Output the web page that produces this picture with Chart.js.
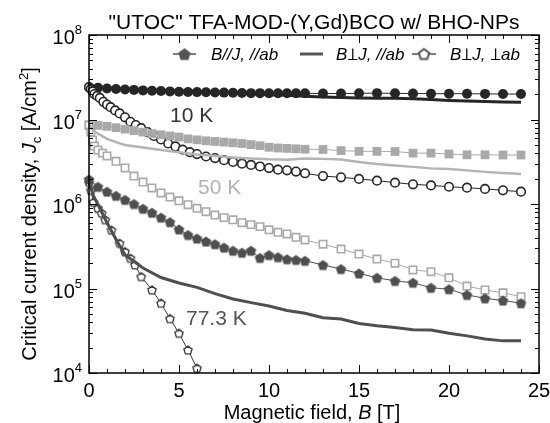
<!DOCTYPE html>
<html lang="en">
<head>
<meta charset="UTF-8">
<title>Jc vs B</title>
<script src="https://cdn.jsdelivr.net/npm/chart.js"></script>
<style>
  body { margin: 0; background: #fff; }
  .wrap { width: 550px; height: 423px; }
</style>
</head>
<body>
<div class="wrap"><canvas id="jc" width="550" height="423"></canvas></div>
<script>
// magnetic field grids [T]
const fieldMarks = [0,0.5,1,1.5,2,2.5,3,3.5,4,4.5,5,5.5,6,6.5,7,7.5,8,8.5,9,9.5,10,10.5,11,11.5,12,13,14,15,16,17,18,19,20,21,22,23,24];
const fieldLine = [0,0.25,0.5,1,1.5,2,3,4,5,6,7,8,9,10,11,12,13,14,15,16,17,18,19,20,21,22,23,24];
const field10Perp = [0,0.1,0.2,0.3,0.45,0.6,0.8,1,1.2,1.45,1.7,2,2.3,2.6,2.9,3.25,3.6,4,4.4,4.8,5.2,5.6,6,6.5,7,7.5,8,8.5,9,9.5,10,10.5,11,11.5,12,13,14,15,16,17,18,19,20,21,22,23,24];
const field50Perp = [0,0.1,0.2,0.3,0.5,0.75,1,1.5,2,2.5,3,3.5,4,4.5,5,5.5,6,6.5,7,7.5,8,8.5,9,9.5,10,10.5,11,11.5,12,13,14,15,16,17,18,19,20,21,22,23,24];
const field77Perp = [0,0.1,0.25,0.5,0.7,0.9,1.25,1.7,2,2.3,2.55,2.9,3.5,4,4.5,5,5.5,6];

// 10 K
const jc10Par = [2.42e7,2.38e7,2.33e7,2.30e7,2.27e7,2.24e7,2.21e7,2.19e7,2.17e7,2.15e7,2.13e7,2.12e7,2.11e7,2.10e7,2.09e7,2.08e7,2.07e7,2.06e7,2.05e7,2.05e7,2.04e7,2.04e7,2.04e7,2.04e7,2.04e7,2.03e7,2.03e7,2.04e7,2.05e7,2.04e7,2.03e7,2.02e7,2.02e7,2.02e7,2.01e7,2.0e7,2.0e7];
const jc10Ab = [2.6e7,2.5e7,2.45e7,2.38e7,2.34e7,2.3e7,2.25e7,2.22e7,2.19e7,2.16e7,2.12e7,2.08e7,2.02e7,1.96e7,1.93e7,1.88e7,1.84e7,1.82e7,1.8e7,1.79e7,1.78e7,1.76e7,1.72e7,1.68e7,1.65e7,1.63e7,1.61e7,1.6e7];
const jc10Perp = [2.4e7,2.3e7,2.15e7,2.0e7,1.9e7,1.8e7,1.62e7,1.5e7,1.4e7,1.28e7,1.18e7,1.06e7,9.4e6,8.6e6,7.9e6,7.1e6,6.4e6,5.8e6,5.2e6,4.8e6,4.4e6,4.1e6,3.9e6,3.65e6,3.5e6,3.3e6,3.15e6,3.0e6,2.9e6,2.78e6,2.66e6,2.55e6,2.5e6,2.42e6,2.31e6,2.14e6,2.07e6,1.98e6,1.89e6,1.79e6,1.71e6,1.66e6,1.6e6,1.56e6,1.51e6,1.45e6,1.4e6];

// 50 K
const jc50Par = [8.7e6,8.5e6,8.3e6,8.0e6,7.7e6,7.4e6,7.1e6,6.8e6,6.6e6,6.4e6,6.2e6,5.9e6,5.75e6,5.6e6,5.5e6,5.4e6,5.3e6,5.2e6,5.05e6,4.9e6,4.7e6,4.6e6,4.55e6,4.5e6,4.45e6,4.42e6,4.28e6,4.2e6,4.2e6,4.18e6,4.0e6,4.0e6,3.9e6,3.82e6,3.82e6,3.8e6,3.8e6];
const jc50Ab = [8.8e6,7.3e6,6.8e6,5.9e6,5.4e6,5.0e6,4.65e6,4.35e6,4.1e6,3.85e6,3.7e6,3.55e6,3.45e6,3.38e6,3.35e6,3.45e6,3.42e6,3.37e6,3.15e6,2.97e6,2.86e6,2.75e6,2.64e6,2.6e6,2.5e6,2.4e6,2.32e6,2.26e6];
const jc50Perp = [8.5e6,7.1e6,5.7e6,4.85e6,4.35e6,4.0e6,3.7e6,3.2e6,2.67e6,2.14e6,1.82e6,1.55e6,1.35e6,1.21e6,1.09e6,9.8e5,8.9e5,8.1e5,7.4e5,6.9e5,6.5e5,6.0e5,5.7e5,5.4e5,4.95e5,4.62e5,4.42e5,4.04e5,3.75e5,3.34e5,2.93e5,2.56e5,2.23e5,1.99e5,1.66e5,1.58e5,1.34e5,1.07e5,9.6e4,8.9e4,8.0e4];

// 77.3 K
const jc77Par = [1.95e6,1.6e6,1.4e6,1.25e6,1.12e6,1.0e6,8.8e5,7.9e5,6.9e5,6.1e5,5.0e5,4.3e5,3.9e5,3.6e5,3.35e5,3.05e5,2.8e5,2.65e5,2.8e5,2.3e5,2.49e5,2.35e5,2.22e5,2.18e5,2.13e5,1.9e5,1.7e5,1.51e5,1.34e5,1.23e5,1.17e5,1.02e5,9.8e4,8.4e4,7.65e4,7.2e4,6.7e4];
const jc77Ab = [1.8e6,1.25e6,9.8e5,6.0e5,3.8e5,2.5e5,1.75e5,1.35e5,1.16e5,1.03e5,8.7e4,7.5e4,6.8e4,6.2e4,5.5e4,5.1e4,4.5e4,4.35e4,3.85e4,3.62e4,3.45e4,3.25e4,3.23e4,2.95e4,2.75e4,2.52e4,2.4e4,2.4e4];
const jc77Perp = [1.8e6,1.45e6,1.05e6,8.9e5,7.8e5,6.5e5,4.9e5,3.43e5,2.73e5,2.28e5,1.9e5,1.38e5,9.6e4,6.7e4,4.4e4,2.95e4,1.87e4,1.14e4];

const xTicks = [0,5,10,15,20,25];
const yDecades = [4,5,6,7,8];

const FONT = '"Liberation Sans", Arial, "DejaVu Sans", sans-serif';
const C10 = '#262626', C50 = '#a9a9a9', C77 = '#4f4f4f';

function pentagon(r, fill, stroke, lw) {
  const s = Math.ceil(2 * r + lw + 2);
  const c = document.createElement('canvas');
  c.width = s; c.height = s;
  const g = c.getContext('2d');
  g.beginPath();
  for (let k = 0; k < 5; k++) {
    const a = -Math.PI / 2 + k * 2 * Math.PI / 5;
    const px = s / 2 + r * Math.cos(a), py = s / 2 + r * Math.sin(a) + r * 0.1;
    k ? g.lineTo(px, py) : g.moveTo(px, py);
  }
  g.closePath();
  g.fillStyle = fill; g.fill();
  if (stroke) { g.lineWidth = lw; g.strokeStyle = stroke; g.stroke(); }
  return c;
}

const pentFilled = pentagon(5.5, C77, null, 0);
const pentOpen = pentagon(4.3, '#fff', '#3a3a3a', 1.4);
const pentLegFilled = pentagon(6.5, '#555', null, 0);
const pentLegOpen = pentagon(5.5, '#fff', '#555', 2);

function pts(xs, ys) { return xs.map((x, i) => ({ x: x, y: ys[i] })); }

const datasets = [
  { data: pts(fieldLine, jc77Ab), borderColor: C77, borderWidth: 3, pointRadius: 0 },
  { data: pts(fieldMarks, jc77Par), borderColor: C77, borderWidth: 1, pointStyle: pentFilled },
  { data: pts(field77Perp, jc77Perp), borderColor: '#3a3a3a', borderWidth: 1, pointStyle: pentOpen },
  { data: pts(fieldLine, jc50Ab), borderColor: '#b4b4b4', borderWidth: 2.5, pointRadius: 0 },
  { data: pts(field50Perp, jc50Perp), borderColor: C50, borderWidth: 1, pointStyle: 'rect', pointRadius: 5.2, pointBackgroundColor: '#fff', pointBorderColor: C50, pointBorderWidth: 1.6 },
  { data: pts(fieldMarks, jc50Par), borderColor: C50, borderWidth: 1, pointStyle: 'rect', pointRadius: 6.2, pointBackgroundColor: C50, pointBorderColor: C50, pointBorderWidth: 0 },
  { data: pts(fieldLine, jc10Ab), borderColor: C10, borderWidth: 3, pointRadius: 0 },
  { data: pts(field10Perp, jc10Perp), borderColor: C10, borderWidth: 1, pointStyle: 'circle', pointRadius: 4.3, pointBackgroundColor: '#fff', pointBorderColor: C10, pointBorderWidth: 1.6 },
  { data: pts(fieldMarks, jc10Par), borderColor: C10, borderWidth: 1, pointStyle: 'circle', pointRadius: 5, pointBackgroundColor: C10, pointBorderColor: C10, pointBorderWidth: 0 }
];
datasets.forEach(d => { d.fill = false; d.tension = 0; d.clip = false; });

// text with pieces: [text, italic, shift, sizeScale]; the text 'PERP' draws a perpendicular sign
function drawPieces(g, pieces, x, y, size, align) {
  const fonts = pieces.map(p => (p[1] ? 'italic ' : '') + Math.round(size * (p[3] || 1)) + 'px ' + FONT);
  const widths = pieces.map((p, i) => {
    if (p[0] === 'PERP') return size * 0.66;
    g.font = fonts[i]; return g.measureText(p[0]).width;
  });
  const total = widths.reduce((a, b) => a + b, 0);
  let cx = align === 'center' ? x - total / 2 : align === 'right' ? x - total : x;
  pieces.forEach((p, i) => {
    if (p[0] === 'PERP') {
      const w = size * 0.56, h = size * 0.7, x0 = cx + size * 0.05;
      g.save();
      g.strokeStyle = g.fillStyle; g.lineWidth = size * 0.075;
      g.beginPath();
      g.moveTo(x0, y - 0.5); g.lineTo(x0 + w, y - 0.5);
      g.moveTo(x0 + w / 2, y - 0.5); g.lineTo(x0 + w / 2, y - h);
      g.stroke();
      g.restore();
    } else {
      g.font = fonts[i];
      g.fillText(p[0], cx, y + (p[2] || 0));
    }
    cx += widths[i];
  });
}

const decor = {
  id: 'decor',
  afterDraw(chart) {
    const g = chart.ctx, a = chart.chartArea;
    const xs = chart.scales.x, ys = chart.scales.y;
    g.save();
    g.fillStyle = '#000'; g.strokeStyle = '#000';
    g.textBaseline = 'alphabetic';
    g.textAlign = 'left';

    // frame
    g.lineWidth = 1.5;
    g.strokeRect(a.left, a.top, a.right - a.left, a.bottom - a.top);

    // x ticks (inward, top and bottom)
    g.lineWidth = 1;
    for (let v = 0; v <= 25; v++) {
      const px = Math.round(xs.getPixelForValue(v)) + 0.5;
      const len = v % 5 === 0 ? 8 : 4;
      g.beginPath();
      g.moveTo(px, a.bottom); g.lineTo(px, a.bottom - len);
      g.moveTo(px, a.top); g.lineTo(px, a.top + len);
      g.stroke();
    }
    // y ticks (log)
    for (let d = 4; d <= 8; d++) {
      for (let m = 1; m <= 9; m++) {
        if (d === 8 && m > 1) break;
        const py = Math.round(ys.getPixelForValue(m * Math.pow(10, d))) + 0.5;
        const len = m === 1 ? 8 : 4;
        g.beginPath();
        g.moveTo(a.left, py); g.lineTo(a.left + len, py);
        g.moveTo(a.right, py); g.lineTo(a.right - len, py);
        g.stroke();
      }
    }

    // tick labels
    g.textAlign = 'center';
    g.font = '20px ' + FONT;
    xTicks.forEach(v => g.fillText(String(v), xs.getPixelForValue(v), a.bottom + 24));
    g.textAlign = 'left';
    yDecades.forEach(d => {
      const py = ys.getPixelForValue(Math.pow(10, d));
      drawPieces(g, [['10', false, 0], [String(d), false, -10, 0.66]], 82, py + 9, 20, 'right');
    });

    // axis titles
    drawPieces(g, [['Magnetic field, ', false], ['B', true], [' [T]', false]], 312, 419, 20, 'center');
    g.save();
    g.translate(36, 214);
    g.rotate(-Math.PI / 2);
    drawPieces(g, [['Critical current density, ', false], ['J', true], ['c', false, 5, 0.66], [' [A/cm', false], ['2', false, -8, 0.66], [']', false]], 0, 0, 20, 'center');
    g.restore();

    // title
    drawPieces(g, [['"UTOC" TFA-MOD-(Y,Gd)BCO w/ BHO-NPs', false]], 314, 29, 21, 'center');

    // temperature labels
    g.font = '21px ' + FONT;
    g.fillStyle = '#333'; g.fillText('10 K', 170, 122);
    g.fillStyle = '#b3b3b3'; g.fillText('50 K', 198, 194);
    g.fillStyle = '#555'; g.fillText('77.3 K', 186, 325);

    // legend
    const ly = 54;
    g.strokeStyle = '#555'; g.fillStyle = '#000';
    g.lineWidth = 1.5;
    g.beginPath(); g.moveTo(173, ly); g.lineTo(196, ly); g.stroke();
    g.drawImage(pentLegFilled, 184.5 - pentLegFilled.width / 2, ly - pentLegFilled.height / 2);
    g.lineWidth = 3;
    g.beginPath(); g.moveTo(300, ly); g.lineTo(323, ly); g.stroke();
    g.lineWidth = 1.5;
    g.beginPath(); g.moveTo(412, ly); g.lineTo(436, ly); g.stroke();
    g.drawImage(pentLegOpen, 424 - pentLegOpen.width / 2, ly - pentLegOpen.height / 2);
    g.fillStyle = '#000';
    drawPieces(g, [['B//J, //ab', true]], 211, ly + 6, 16.5, 'left');
    drawPieces(g, [['B', true], ['PERP', false], ['J, //ab', true]], 336, ly + 6, 16.5, 'left');
    drawPieces(g, [['B', true], ['PERP', false], ['J, ', true], ['PERP', false], ['ab', true]], 450, ly + 6, 16.5, 'left');

    g.restore();
  }
};

new Chart(document.getElementById('jc'), {
  type: 'line',
  data: { datasets: datasets },
  options: {
    responsive: false,
    animation: false,
    devicePixelRatio: 1,
    layout: { padding: { left: 89, top: 35, right: 11, bottom: 50 } },
    scales: {
      x: { type: 'linear', min: 0, max: 25, display: false },
      y: { type: 'logarithmic', min: 1e4, max: 1e8, display: false }
    },
    plugins: { legend: { display: false }, tooltip: { enabled: false }, title: { display: false } }
  },
  plugins: [decor]
});
</script>
</body>
</html>
